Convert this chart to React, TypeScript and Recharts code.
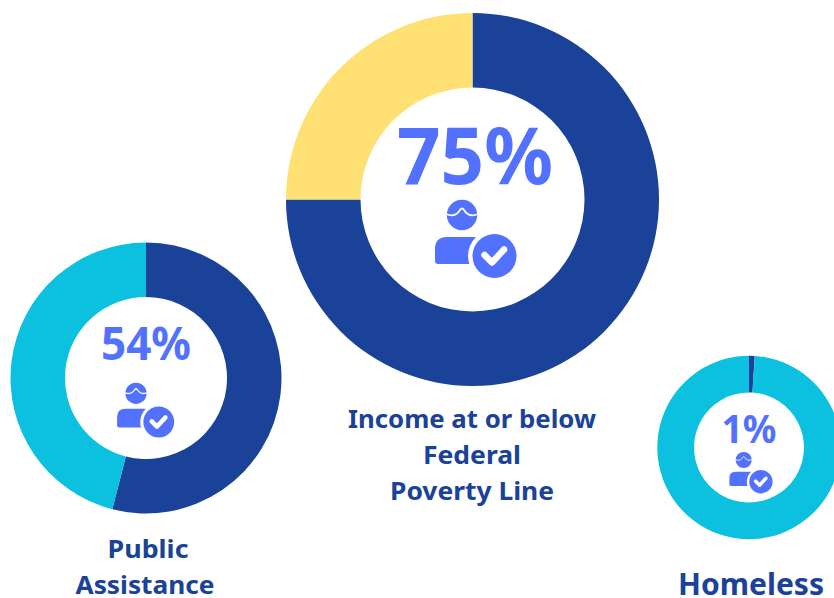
import React from "react";
import { PieChart, Pie, Cell } from "recharts";

const povertyValues = [75, 25];
const assistanceValues = [54, 46];
const homelessValues = [1, 99];
const povertyColors = ["#1A4299", "#FFE173"];
const otherColors = ["#1A4299", "#0CC0DF"];
const percentColor = "#5271FF";
const labelColor = "#1A4299";
const font = "'Noto Sans', sans-serif";

const toRows = (values: number[]) => values.map((value, i) => ({ name: `s${i}`, value }));

function Donut(props: { values: number[]; colors: string[]; cx: number; cy: number; inner: number; outer: number }) {
  return (
    <Pie
      data={toRows(props.values)}
      dataKey="value"
      cx={props.cx}
      cy={props.cy}
      innerRadius={props.inner}
      outerRadius={props.outer}
      startAngle={90}
      endAngle={-270}
      stroke="none"
      isAnimationActive={false}
      label={false}
      labelLine={false}
    >
      {props.values.map((_, i) => (
        <Cell key={i} fill={props.colors[i]} />
      ))}
    </Pie>
  );
}

// Icon drawn around the head centre, at the size it has in the largest donut.
function PersonCheck({ x, y, s }: { x: number; y: number; s: number }) {
  return (
    <g transform={`translate(${x} ${y}) scale(${s})`}>
      <circle cx={0} cy={0} r={15.2} fill={percentColor} />
      <path d="M-16 -1 C-9 2 -5 0 -2 -5 Q0 -8 2 -5 C5 0 9 2 16 -1" fill="none" stroke="#fff" strokeWidth={1.8} />
      <path d="M-15 22 H12 Q20 22 20 30 V49 H-24 Q-27 49 -27 46 V34 Q-27 22 -15 22 Z" fill={percentColor} />
      <circle cx={32.5} cy={41} r={26.5} fill="#fff" />
      <circle cx={32.5} cy={41} r={22} fill={percentColor} />
      <path d="M22.5 40 L30 47.5 L42 34.5" fill="none" stroke="#fff" strokeWidth={6.5} strokeLinecap="round" strokeLinejoin="round" />
    </g>
  );
}

function Label({ x, y, size, fill, weight, children, width }: any) {
  return (
    <text x={x} y={y} textAnchor="middle" fontFamily={font} fontWeight={weight} fontSize={size} fill={fill}
      textLength={width} lengthAdjust="spacingAndGlyphs">
      {children}
    </text>
  );
}

export default function App() {
  return (
    <div style={{ position: "absolute", left: 0, top: 0, width: 834, height: 598, overflow: "hidden", background: "#fff" }}>
      <PieChart width={834} height={598} margin={{ top: 0, right: 0, bottom: 0, left: 0 }}>
        <Donut values={povertyValues} colors={povertyColors} cx={472.5} cy={199.5} inner={112} outer={186.5} />
        <Donut values={assistanceValues} colors={otherColors} cx={146} cy={378} inner={81} outer={135.5} />
        <Donut values={homelessValues} colors={otherColors} cx={749} cy={447.5} inner={55} outer={91.7} />

        <Label x={475} y={184} size={78} fill={percentColor} weight={700} width={156}>75%</Label>
        <Label x={146} y={360} size={46} fill={percentColor} weight={700} width={90}>54%</Label>
        <Label x={749} y={443} size={40} fill={percentColor} weight={700} width={55}>1%</Label>

        <PersonCheck x={462} y={215} s={1} />
        <PersonCheck x={136} y={393.3} s={0.7} />
        <PersonCheck x={743.7} y={460} s={0.53} />

        <Label x={472} y={428} size={25} fill={labelColor} weight={700} width={248}>Income at or below</Label>
        <Label x={472} y={464} size={25} fill={labelColor} weight={700} width={98}>Federal</Label>
        <Label x={472} y={500} size={25} fill={labelColor} weight={700} width={164}>Poverty Line</Label>
        <Label x={148} y={558} size={25} fill={labelColor} weight={700} width={81}>Public</Label>
        <Label x={145} y={594} size={25} fill={labelColor} weight={700} width={139}>Assistance</Label>
        <Label x={751} y={595} size={30} fill={labelColor} weight={700} width={146}>Homeless</Label>
      </PieChart>
    </div>
  );
}
